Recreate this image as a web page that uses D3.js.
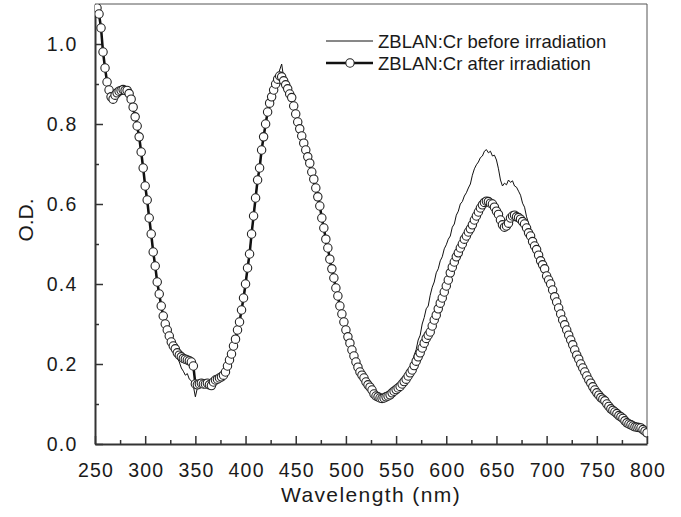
<!DOCTYPE html>
<html>
<head>
<meta charset="utf-8">
<script src="https://cdn.jsdelivr.net/npm/d3@7"></script>
<style>
  body { margin: 0; background: #fff; }
  svg { display: block; font-family: "Liberation Sans", Arial, sans-serif; }
</style>
</head>
<body>
<svg id="chart"></svg>
<script>
// wavelength grid (nm), one reading every 2 nm
const wavelengths = d3.range(252, 801, 2);

const odAfter = [
  1.09, 1.075, 1.04, 0.98, 0.94, 0.905, 0.885, 0.868, 0.862, 0.872,
  0.878, 0.882, 0.884, 0.886, 0.884, 0.884, 0.876, 0.862, 0.842, 0.818,
  0.795, 0.768, 0.730, 0.690, 0.645, 0.610, 0.565, 0.525, 0.480, 0.445,
  0.405, 0.375, 0.345, 0.320, 0.300, 0.285, 0.270, 0.255, 0.245, 0.238,
  0.228, 0.222, 0.218, 0.214, 0.212, 0.210, 0.208, 0.205, 0.195, 0.150,
  0.148, 0.150, 0.152, 0.150, 0.150, 0.152, 0.148, 0.146, 0.155, 0.160,
  0.162, 0.165, 0.168, 0.172, 0.180, 0.195, 0.210, 0.225, 0.245, 0.262,
  0.285, 0.305, 0.335, 0.365, 0.400, 0.440, 0.475, 0.525, 0.570, 0.615,
  0.660, 0.690, 0.735, 0.768, 0.800, 0.830, 0.852, 0.868, 0.885, 0.900,
  0.912, 0.920, 0.918, 0.908, 0.898, 0.888, 0.875, 0.866, 0.845, 0.825,
  0.805, 0.788, 0.770, 0.752, 0.735, 0.718, 0.702, 0.680, 0.662, 0.640,
  0.618, 0.595, 0.565, 0.540, 0.512, 0.490, 0.462, 0.438, 0.415, 0.390,
  0.370, 0.345, 0.325, 0.305, 0.285, 0.268, 0.252, 0.235, 0.220, 0.205,
  0.192, 0.180, 0.172, 0.165, 0.155, 0.148, 0.142, 0.135, 0.125, 0.120,
  0.118, 0.115, 0.114, 0.115, 0.118, 0.120, 0.123, 0.128, 0.132, 0.136,
  0.140, 0.144, 0.150, 0.156, 0.162, 0.170, 0.178, 0.185, 0.196, 0.207,
  0.218, 0.228, 0.240, 0.252, 0.264, 0.272, 0.280, 0.295, 0.310, 0.322,
  0.338, 0.352, 0.365, 0.380, 0.395, 0.410, 0.428, 0.442, 0.455, 0.468,
  0.478, 0.490, 0.500, 0.512, 0.520, 0.530, 0.538, 0.548, 0.560, 0.570,
  0.580, 0.590, 0.598, 0.604, 0.607, 0.606, 0.602, 0.600, 0.592, 0.582,
  0.574, 0.560, 0.548, 0.542, 0.545, 0.552, 0.565, 0.570, 0.572, 0.568,
  0.566, 0.562, 0.556, 0.550, 0.540, 0.528, 0.520, 0.506, 0.495, 0.486,
  0.472, 0.458, 0.448, 0.438, 0.420, 0.410, 0.400, 0.385, 0.368, 0.355,
  0.340, 0.325, 0.310, 0.298, 0.285, 0.272, 0.260, 0.248, 0.235, 0.222,
  0.212, 0.200, 0.190, 0.180, 0.170, 0.160, 0.152, 0.143, 0.135, 0.128,
  0.122, 0.116, 0.112, 0.108, 0.100, 0.094, 0.088, 0.084, 0.080, 0.076,
  0.071, 0.068, 0.064, 0.058, 0.053, 0.050, 0.048, 0.045, 0.043, 0.042,
  0.041, 0.040, 0.036, 0.032, 0.028
];

const odBefore = [
  1.10, 1.07, 1.035, 0.985, 0.935, 0.90, 0.882, 0.865, 0.86, 0.87,
  0.876, 0.88, 0.885, 0.884, 0.886, 0.882, 0.874, 0.86, 0.84, 0.815,
  0.79, 0.765, 0.728, 0.688, 0.642, 0.606, 0.562, 0.522, 0.478, 0.442,
  0.402, 0.372, 0.342, 0.318, 0.298, 0.282, 0.266, 0.25, 0.238, 0.228,
  0.215, 0.205, 0.19, 0.182, 0.172, 0.176, 0.162, 0.158, 0.145, 0.118,
  0.14, 0.148, 0.145, 0.15, 0.148, 0.152, 0.146, 0.148, 0.152, 0.158,
  0.16, 0.165, 0.17, 0.175, 0.182, 0.198, 0.212, 0.228, 0.246, 0.264,
  0.286, 0.308, 0.336, 0.368, 0.402, 0.44, 0.478, 0.526, 0.572, 0.618,
  0.66, 0.694, 0.736, 0.77, 0.802, 0.832, 0.856, 0.872, 0.888, 0.904,
  0.918, 0.935, 0.95, 0.915, 0.905, 0.892, 0.88, 0.868, 0.848, 0.828,
  0.808, 0.79, 0.772, 0.755, 0.738, 0.72, 0.704, 0.684, 0.665, 0.642,
  0.62, 0.598, 0.568, 0.542, 0.515, 0.492, 0.465, 0.44, 0.418, 0.392,
  0.372, 0.348, 0.328, 0.308, 0.288, 0.27, 0.254, 0.238, 0.222, 0.206,
  0.194, 0.182, 0.174, 0.166, 0.156, 0.148, 0.142, 0.134, 0.124, 0.12,
  0.116, 0.114, 0.114, 0.116, 0.12, 0.122, 0.128, 0.134, 0.138, 0.142,
  0.148, 0.152, 0.16, 0.166, 0.172, 0.18, 0.19, 0.2, 0.222, 0.236,
  0.26, 0.272, 0.3, 0.316, 0.338, 0.345, 0.372, 0.392, 0.405, 0.428,
  0.438, 0.458, 0.468, 0.488, 0.498, 0.512, 0.52, 0.542, 0.55, 0.572,
  0.582, 0.6, 0.606, 0.62, 0.628, 0.64, 0.65, 0.672, 0.688, 0.698,
  0.705, 0.716, 0.72, 0.732, 0.736, 0.728, 0.732, 0.72, 0.722, 0.71,
  0.688, 0.66, 0.645, 0.652, 0.648, 0.66, 0.654, 0.658, 0.645, 0.642,
  0.632, 0.622, 0.602, 0.592, 0.568, 0.552, 0.536, 0.515, 0.5, 0.488,
  0.474, 0.46, 0.45, 0.438, 0.422, 0.412, 0.4, 0.386, 0.37, 0.356,
  0.342, 0.326, 0.312, 0.298, 0.286, 0.272, 0.262, 0.248, 0.236, 0.222,
  0.212, 0.2, 0.19, 0.18, 0.17, 0.16, 0.152, 0.143, 0.135, 0.128,
  0.122, 0.116, 0.112, 0.108, 0.1, 0.094, 0.088, 0.084, 0.08, 0.076,
  0.071, 0.068, 0.064, 0.058, 0.053, 0.05, 0.048, 0.045, 0.043, 0.042,
  0.041, 0.04, 0.036, 0.032, 0.028
];

const xTicks = [250, 300, 350, 400, 450, 500, 550, 600, 650, 700, 750, 800];
const yTicks = [0, 0.2, 0.4, 0.6, 0.8, 1.0];
const seriesNames = ["ZBLAN:Cr before irradiation", "ZBLAN:Cr after irradiation"];

let width = 681;
let height = 517;
let margin = ({top: 4, right: 34, bottom: 73, left: 95});

var x = d3.scaleLinear().domain([250, 800]).range([margin.left, width - margin.right]);
var y = d3.scaleLinear().domain([0, 1.1]).range([height - margin.bottom, margin.top]);

let svg = d3.select('#chart')
  .attr('width', width)
  .attr('height', height);

svg.append("defs").append("clipPath").attr("id", "plot-clip")
  .append("rect")
  .attr("x", margin.left).attr("y", margin.top)
  .attr("width", width - margin.left - margin.right)
  .attr("height", height - margin.top - margin.bottom);

// frame on top and right
svg.append("path")
  .attr("d", `M${margin.left},${margin.top}H${width - margin.right}V${height - margin.bottom}`)
  .attr("fill", "none")
  .attr("stroke", "#555")
  .attr("stroke-width", 1);

// minor ticks (no labels)
let xMinor = d3.axisBottom(x).tickValues(d3.range(275, 800, 50)).tickSizeInner(-4).tickSizeOuter(0).tickFormat("");
let yMinor = d3.axisLeft(y).tickValues(d3.range(0.1, 1.05, 0.2)).tickSizeInner(-4).tickSizeOuter(0).tickFormat("");

svg.append("g").call(xMinor)
  .attr("transform", `translate(0, ${height - margin.bottom})`)
  .call(g => g.select(".domain").remove())
  .call(g => g.selectAll("line").attr("stroke", "#333").attr("stroke-width", 1.5));
svg.append("g").call(yMinor)
  .attr("transform", `translate(${margin.left}, 0)`)
  .call(g => g.select(".domain").remove())
  .call(g => g.selectAll("line").attr("stroke", "#333").attr("stroke-width", 1.5));

// major axes
let xAxis = d3.axisBottom(x).tickValues(xTicks).tickSizeInner(-8).tickSizeOuter(0).tickPadding(19).tickFormat(d3.format("d"));
let yAxis = d3.axisLeft(y).tickValues(yTicks).tickSizeInner(-8).tickSizeOuter(0).tickPadding(17.5).tickFormat(d3.format(".1f"));

svg.append("g").call(xAxis)
  .attr("transform", `translate(0, ${height - margin.bottom})`)
  .call(g => g.select(".domain").attr("stroke", "#333").attr("stroke-width", 2))
  .call(g => g.selectAll("line").attr("stroke", "#333").attr("stroke-width", 1.5))
  .call(g => g.selectAll("text")
    .attr("fill", "#1a1a1a")
    .style("font-size", "19.5px")
    .style("letter-spacing", "1.2px")
    .attr("dx", "0.6px"));

svg.append("g").call(yAxis)
  .attr("transform", `translate(${margin.left}, 0)`)
  .call(g => g.select(".domain").attr("stroke", "#333").attr("stroke-width", 2))
  .call(g => g.selectAll("line").attr("stroke", "#333").attr("stroke-width", 1.5))
  .call(g => g.selectAll("text")
    .attr("fill", "#1a1a1a")
    .style("font-size", "19.5px")
    .style("letter-spacing", "1.2px"));

let before = wavelengths.map((w, i) => ({wl: w, od: odBefore[i]}));
let after = wavelengths.map((w, i) => ({wl: w, od: odAfter[i]}));

var line = d3.line()
  .x(d => x(d.wl))
  .y(d => y(d.od));

let plot = svg.append("g").attr("clip-path", "url(#plot-clip)");

plot.append("path")
  .datum(before)
  .attr("fill", "none")
  .attr("stroke", "#111")
  .attr("stroke-width", 1)
  .attr("d", line);

plot.append("path")
  .datum(after)
  .attr("fill", "none")
  .attr("stroke", "#111")
  .attr("stroke-width", 2.5)
  .attr("d", line);

plot.selectAll("circle")
  .data(after)
  .join("circle")
  .attr("cx", d => x(d.wl))
  .attr("cy", d => y(d.od))
  .attr("r", 4.2)
  .attr("fill", "#fff")
  .attr("stroke", "#222")
  .attr("stroke-width", 1.1);

// legend
let legend = svg.append("g").selectAll("g")
  .data(seriesNames)
  .join("g")
  .attr("transform", (d, i) => `translate(326, ${41 + i * 22})`);

legend.append("line")
  .attr("x1", 0).attr("x2", 47)
  .attr("stroke", "#111")
  .attr("stroke-width", (d, i) => i === 0 ? 1 : 2.5);

legend.filter((d, i) => i === 1).append("circle")
  .attr("cx", 24).attr("r", 4.2)
  .attr("fill", "#fff").attr("stroke", "#222").attr("stroke-width", 1.1);

legend.append("text")
  .attr("x", 52)
  .attr("dy", "0.36em")
  .attr("fill", "#1a1a1a")
  .style("font-size", "18.5px")
  .text(d => d);

// Add label for axis
svg.append("text")
  .attr("x", (margin.left + width - margin.right) / 2)
  .attr("y", 502)
  .attr("text-anchor", "middle")
  .attr("fill", "#1a1a1a")
  .style("font-size", "21px")
  .style("letter-spacing", "1.4px")
  .text("Wavelength (nm)");

svg.append("text")
  .attr("transform", "rotate(-90)")
  .attr("x", -220)
  .attr("y", 33)
  .attr("text-anchor", "middle")
  .attr("fill", "#1a1a1a")
  .style("font-size", "21px")
  .text("O.D.");
</script>
</body>
</html>
